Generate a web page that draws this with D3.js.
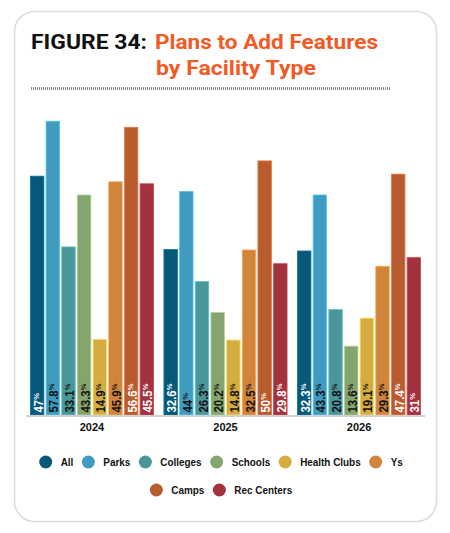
<!DOCTYPE html>
<html><head><meta charset="utf-8">
<script src="https://cdn.jsdelivr.net/npm/d3@7"></script>
<style>html,body{margin:0;padding:0;background:#fff;}svg{display:block;}</style>
</head><body>
<svg id="chart" width="450" height="533"></svg>
<script>
const years = ["2024", "2025", "2026"];
const series = ["All", "Parks", "Colleges", "Schools", "Health Clubs", "Ys", "Camps", "Rec Centers"];
const values2024 = [47, 57.8, 33.1, 43.3, 14.9, 45.9, 56.6, 45.5];
const values2025 = [32.6, 44, 26.3, 20.2, 14.8, 32.5, 50, 29.8];
const values2026 = [32.3, 43.3, 20.8, 13.6, 19.1, 29.3, 47.4, 31];
const colors = ["#07597a", "#3f9bc0", "#4a979b", "#86a56e", "#d4ac42", "#d1843c", "#b85b2f", "#a3323f"];
const whiteLabel = ["All", "Camps", "Rec Centers"];
const legendRows = [["All", "Parks", "Colleges", "Schools", "Health Clubs", "Ys"], ["Camps", "Rec Centers"]];

const valuesByYear = [values2024, values2025, values2026];
const data = [];
years.forEach((y, i) => series.forEach((s, j) => data.push({year: y, series: s, value: valuesByYear[i][j]})));

const svg = d3.select("#chart");
const sans = "'Liberation Sans', Arial, sans-serif";

// card
svg.append("rect").attr("x", 14.5).attr("y", 11.5).attr("width", 422).attr("height", 510)
  .attr("rx", 20).attr("fill", "#fff").attr("stroke", "#dcdcdc").attr("stroke-width", 1.5);

// title
const tf = "Roboto, 'Open Sans', sans-serif";
svg.append("text").attr("x", 31).attr("y", 49).attr("font-family", tf).attr("font-weight", 700)
  .attr("font-size", 20.5).attr("fill", "#111").attr("textLength", 116).attr("lengthAdjust", "spacingAndGlyphs")
  .text("FIGURE 34:");
svg.append("text").attr("x", 155).attr("y", 49).attr("font-family", tf).attr("font-weight", 700)
  .attr("font-size", 20.5).attr("fill", "#f15a24").attr("textLength", 223).attr("lengthAdjust", "spacingAndGlyphs")
  .text("Plans to Add Features");
svg.append("text").attr("x", 156).attr("y", 74.5).attr("font-family", tf).attr("font-weight", 700)
  .attr("font-size", 20.5).attr("fill", "#f15a24").attr("textLength", 160).attr("lengthAdjust", "spacingAndGlyphs")
  .text("by Facility Type");
svg.append("line").attr("x1", 31).attr("x2", 391).attr("y1", 88.5).attr("y2", 88.5)
  .attr("stroke", "#8a8a8a").attr("stroke-width", 3).attr("stroke-dasharray", "1,1");

// scales
const x0 = d3.scaleBand().domain(years).range([26, 425]).paddingInner(0.072).paddingOuter(0.03);
const x1 = d3.scaleBand().domain(series).range([0, x0.bandwidth()]).paddingInner(0.09).paddingOuter(0);
const y = d3.scaleLinear().domain([0, 60]).range([415, 415 - 60 * 5.09]);
const color = d3.scaleOrdinal().domain(series).range(colors);

const g = svg.append("g");
const bars = g.selectAll("g.bar").data(data).join("g")
  .attr("transform", d => `translate(${x0(d.year) + x1(d.series)},0)`);
bars.append("rect").attr("x", 0.4).attr("width", x1.bandwidth() - 0.8)
  .attr("y", d => y(d.value) + 0.4).attr("height", d => y(0) - y(d.value) - 0.4)
  .attr("fill", d => color(d.series))
  .attr("stroke", d => d3.color(color(d.series)).brighter(0.7)).attr("stroke-width", 0.8);

const lab = bars.append("text")
  .attr("transform", d => `translate(${x1.bandwidth() / 2 + 0.5},${y(0) - 2.5}) rotate(-90) scale(0.95,1)`)
  .attr("dominant-baseline", "central")
  .attr("font-family", sans).attr("font-weight", 700).attr("font-size", 12)
  .attr("fill", d => whiteLabel.includes(d.series) ? "#fff" : "#111");
lab.append("tspan").text(d => String(d.value));
lab.append("tspan").attr("font-size", 8).attr("dy", -2).text("%");

// baseline
svg.append("line").attr("x1", 26).attr("x2", 425).attr("y1", y(0) + 1).attr("y2", y(0) + 1)
  .attr("stroke", "#d0d0d0").attr("stroke-width", 2);

// year labels
const xAxis = d3.axisBottom(x0).tickSize(0).tickPadding(6);
const ax = svg.append("g").attr("transform", `translate(0,${y(0) + 2})`).call(xAxis);
ax.select(".domain").remove();
ax.selectAll("text").attr("font-family", sans).attr("font-weight", 700)
  .attr("font-size", 11).attr("fill", "#111");

// legend
const legendY = [462, 490];
legendRows.forEach((row, ri) => {
  const lg = svg.append("g");
  let cx = 0;
  row.forEach(name => {
    const it = lg.append("g").attr("transform", `translate(${cx},0)`);
    it.append("circle").attr("cx", 6.5).attr("cy", 0).attr("r", 6.5).attr("fill", color(name));
    const t = it.append("text").attr("x", 21.5).attr("y", 0).attr("dominant-baseline", "central")
      .attr("font-family", sans).attr("font-weight", 700)
      .attr("font-size", 11).attr("fill", "#111").text(name);
    const w = t.node().getComputedTextLength() * 0.9;
    t.attr("textLength", w).attr("lengthAdjust", "spacingAndGlyphs");
    cx += 21.5 + w + 8.5;
  });
  const w = cx - 8.5;
  lg.attr("transform", `translate(${221 - w / 2},${legendY[ri]})`);
});
</script>
</body></html>
